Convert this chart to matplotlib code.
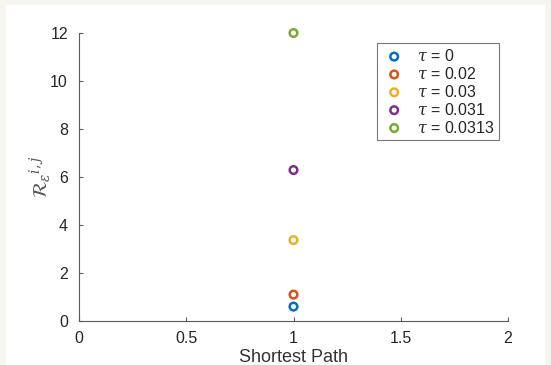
import numpy as np
import matplotlib.pyplot as plt

# values
tau_labels = [r'$\tau$ = 0', r'$\tau$ = 0.02', r'$\tau$ = 0.03', r'$\tau$ = 0.031', r'$\tau$ = 0.0313']
shortest_path = [1, 1, 1, 1, 1]
r_values = [0.6, 1.1, 3.37, 6.29, 12.0]
colors = ['#0072BD', '#D95319', '#EDB120', '#7E2F8E', '#77AC30']

plt.rcParams['font.family'] = ['Liberation Sans', 'DejaVu Sans']
plt.rcParams['mathtext.fontset'] = 'dejavuserif'

fig = plt.figure(figsize=(5.51, 3.65), dpi=100)
fig.patch.set_facecolor('#f7f5f0')
# white inner panel
fig.add_artist(plt.Rectangle((0.01, 0.0), 0.98, 0.985, transform=fig.transFigure,
                             facecolor='white', edgecolor='none', zorder=-1))
ax = fig.add_axes([79 / 551, 1 - 321 / 365, (508 - 79) / 551, (321 - 33) / 365])
ax.set_facecolor('white')

for x, y, c, lab in zip(shortest_path, r_values, colors, tau_labels):
    ax.scatter(x, y, s=30, facecolors='none', edgecolors=c, linewidths=1.8, label=lab,
               clip_on=False, zorder=3)

ax.set_xlim(0, 2)
ax.set_ylim(0, 12)
ax.set_xticks([0, 0.5, 1, 1.5, 2])
ax.set_xticklabels(['0', '0.5', '1', '1.5', '2'])
ax.set_yticks(np.arange(0, 13, 2))

for s in ['top', 'right']:
    ax.spines[s].set_visible(False)
for s in ['left', 'bottom']:
    ax.spines[s].set_color('#5a5a5a')
    ax.spines[s].set_linewidth(0.8)
ax.tick_params(direction='in', length=3, colors='#5a5a5a', labelcolor='#262626', labelsize=11.5)
ax.tick_params(axis='y', pad=8)
ax.tick_params(axis='x', pad=7)

ax.set_xlabel('Shortest Path', fontsize=13, color='#333333', labelpad=2)
ax.set_ylabel(r'$\mathcal{R}_{\varepsilon}{}^{i,j}$', fontsize=14, color='#555555', labelpad=-3)

leg = ax.legend(loc='upper right', bbox_to_anchor=(0.978, 0.965), fontsize=11.5, frameon=True,
                fancybox=False, edgecolor='#555555', handletextpad=0.6, borderpad=0.3,
                labelspacing=0.12, handlelength=1.6, borderaxespad=0)
leg.get_frame().set_linewidth(0.8)
for t in leg.get_texts():
    t.set_color('#262626')

fig.savefig('out.png', dpi=100, facecolor=fig.get_facecolor())
